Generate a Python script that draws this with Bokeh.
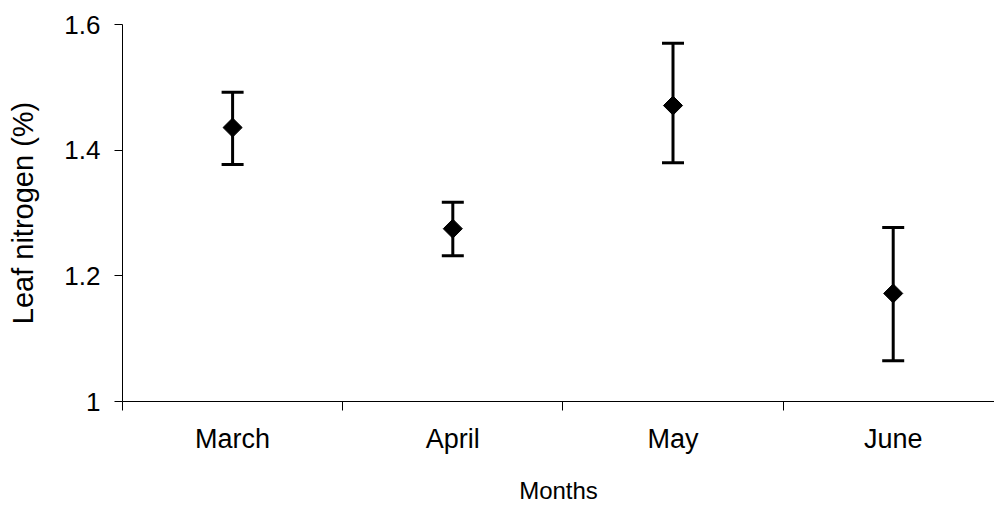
import math
from bokeh.plotting import figure
from bokeh.models import ColumnDataSource, Whisker, TeeHead, FixedTicker, Range1d
from bokeh.embed import file_html
from bokeh.resources import INLINE

months = ["March", "April", "May", "June"]
nitrogen = [1.436, 1.275, 1.471, 1.172]
upper = [1.492, 1.317, 1.570, 1.277]
lower = [1.377, 1.232, 1.380, 1.065]
y_ticks = [1.0, 1.2, 1.4, 1.6]
y_tick_labels = ["1", "1.2", "1.4", "1.6"]

xpos = [i + 0.5 for i in range(len(months))]
src = ColumnDataSource(dict(x=xpos, y=nitrogen, upper=upper, lower=lower))

FONT = "Liberation Sans"

p = figure(width=994, height=507, output_backend="svg", toolbar_location=None,
           x_range=Range1d(0, 3.96), y_range=Range1d(1.0, 1.6),
           min_border_left=122, min_border_top=24, min_border_bottom=106,
           min_border_right=0)
p.outline_line_color = None
p.grid.visible = False
p.background_fill_color = "white"
p.border_fill_color = "white"

w = Whisker(source=src, base="x", upper="upper", lower="lower",
            line_color="black", line_width=3,
            upper_head=TeeHead(size=22, line_width=3, line_color="black"),
            lower_head=TeeHead(size=22, line_width=3, line_color="black"))
p.add_layout(w)
p.scatter("x", "y", source=src, marker="square", angle=math.pi / 4, size=13.5,
          fill_color="black", line_color="black")

# x axis
p.xaxis.ticker = FixedTicker(ticks=xpos, minor_ticks=list(range(len(months) + 1)))
p.xaxis.major_label_overrides = {x: m for x, m in zip(xpos, months)}
p.xaxis.major_tick_out = 0
p.xaxis.major_tick_in = 0
p.xaxis.minor_tick_out = 9
p.xaxis.minor_tick_in = 0
p.xaxis.minor_tick_line_color = "black"
p.xaxis.axis_line_color = "black"
p.xaxis.major_label_standoff = 13
p.xaxis.major_label_text_font = FONT
p.xaxis.major_label_text_font_size = "27px"
p.xaxis.major_label_text_color = "black"
p.xaxis.axis_label = "Months"
p.xaxis.axis_label_text_font = FONT
p.xaxis.axis_label_text_font_size = "24px"
p.xaxis.axis_label_text_font_style = "normal"
p.xaxis.axis_label_text_color = "black"
p.xaxis.axis_label_standoff = 20

# y axis
p.yaxis.ticker = FixedTicker(ticks=y_ticks, minor_ticks=[])
p.yaxis.major_label_overrides = {t: l for t, l in zip(y_ticks, y_tick_labels)}
p.yaxis.major_tick_out = 8
p.yaxis.major_tick_in = 0
p.yaxis.major_tick_line_color = "black"
p.yaxis.axis_line_color = "black"
p.yaxis.major_label_standoff = 14
p.yaxis.major_label_text_font = FONT
p.yaxis.major_label_text_font_size = "26px"
p.yaxis.major_label_text_color = "black"
p.yaxis.axis_label = "Leaf nitrogen (%)"
p.yaxis.axis_label_text_font = FONT
p.yaxis.axis_label_text_font_size = "29px"
p.yaxis.axis_label_text_font_style = "normal"
p.yaxis.axis_label_text_color = "black"
p.yaxis.axis_label_standoff = 22

open("out.html", "w").write(file_html(p, INLINE))
